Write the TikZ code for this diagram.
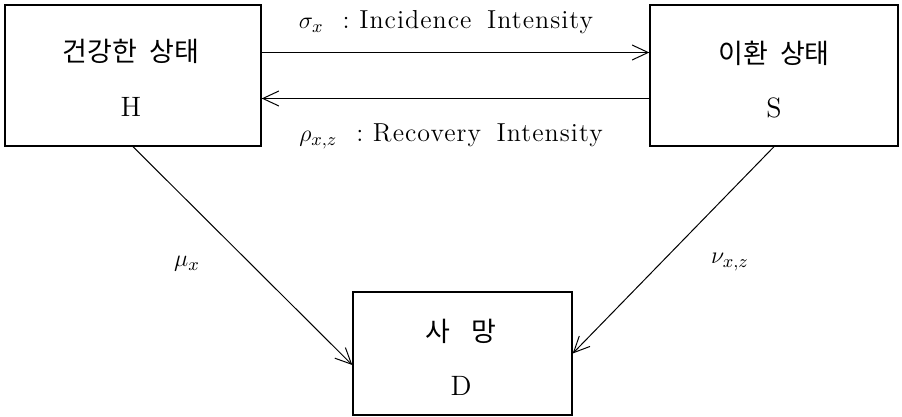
\documentclass[tikz,border=0pt]{standalone}
\usepackage{fontspec}
\setmainfont{Latin Modern Roman}
\newfontfamily\kr{Noto Sans CJK KR}
\newfontfamily\lsfont[LetterSpace=4]{Latin Modern Roman}
\usetikzlibrary{arrows.meta}
\begin{document}
\begin{tikzpicture}[x=0.5pt,y=-0.5pt,
  box/.style={draw, line width=0.7pt, inner sep=0pt},
  krtext/.style={font=\kr\fontsize{13.5}{16}\selectfont, inner sep=0pt},
  lettertext/.style={font=\fontsize{14}{16}\selectfont, inner sep=0pt},
  lbl/.style={font=\lsfont\fontsize{13}{15}\selectfont, inner sep=0pt},
  arr/.style={line width=0.5pt, -{Straight Barb[length=8pt,width=7.5pt]}}]
\useasboundingbox (0,0) rectangle (902,417);
% boxes
\node[box, minimum width=128pt, minimum height=70.5pt] (H) at (133,75.5) {};
\node[box, minimum width=124pt, minimum height=70.5pt] (S) at (774,75.5) {};
\node[box, minimum width=109.5pt, minimum height=61.5pt] (D) at (462.5,353.5) {};
% box texts
\node[krtext] (Hk) at (131,51) {건강한\hspace{0.45em}상태};
\node[lettertext] (Hl) at (131,107) {H};
\node[krtext] (Sk) at (774,53) {이환\hspace{0.45em}상태};
\node[lettertext] (Sl) at (774,108) {S};
\node[krtext] (Dk) at (461,331) {사\hspace{0.8em}망};
\node[lettertext] (Dl) at (461,386) {D};
% connectors
\draw[arr] ([yshift=11.5pt]H.east) -- ([yshift=11.5pt]S.west);
\draw[arr] ([yshift=-11.5pt]S.west) -- ([yshift=-11.5pt]H.east);
\draw[arr] (H.south) -- ([yshift=-5.75pt]D.west);
\draw[arr] (S.south) -- (D.east);
% labels
\node[lbl, anchor=base] (Ls) at (446,28.5) {$\sigma_{x}$\ \ :\ Incidence\hspace{0.6em}Intensity};
\node[lbl, anchor=base] (Lr) at (451,142) {$\rho_{x,z}$\ \ :\ Recovery\hspace{0.6em}Intensity};
\node[lbl] (Lm) at (187,264) {$\mu_{x}$};
\node[lbl] (Ln) at (730,262) {$\nu_{x,z}$};
\end{tikzpicture}
\end{document}
